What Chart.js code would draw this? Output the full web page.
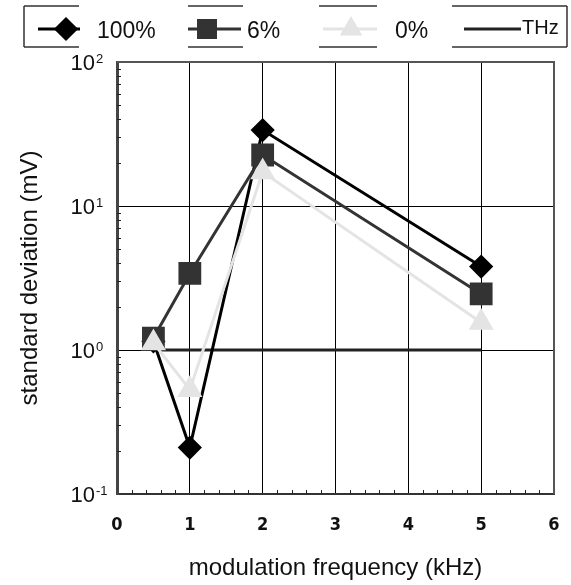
<!DOCTYPE html>
<html>
<head>
<meta charset="utf-8">
<script src="https://cdn.jsdelivr.net/npm/chart.js@4.4.1/dist/chart.umd.min.js"></script>
<style>
  html, body { margin: 0; padding: 0; background: #fff; }
  #wrap { width: 571px; height: 585px; }
</style>
</head>
<body>
<div id="wrap"><canvas id="graph-box" width="571" height="585"></canvas></div>
<script>
// modulation frequency (kHz) of each measurement
const freqKHz = [0.5, 1, 2, 5];
// standard deviation (mV) per modulation depth
const sd100 = [1.15, 0.21, 33.7, 3.8];
const sd6 = [1.21, 3.4, 22.6, 2.45];
const sd0 = [1.12, 0.53, 17.2, 1.55];
// THz reference level
const thzX = [0.5, 5];
const thzY = [1, 1];

const xTicks = [0, 1, 2, 3, 4, 5, 6];
const yExps = [-1, 0, 1, 2];
const seriesNames = ['100%', '6%', '0%', 'THz'];

const pts = (xs, ys) => xs.map((x, i) => ({ x: x, y: ys[i] }));

const boxLegend = {
  id: 'boxLegend',
  afterDraw(chart) {
    const ctx = chart.ctx;
    const h = Chart.helpers;
    ctx.save();
    // broken frame around the legend
    ctx.strokeStyle = '#333';
    ctx.lineWidth = 1.5;
    const top = 6, bot = 47;
    [[24, 79], [188, 243], [319, 377], [452, 567]].forEach(s => {
      ctx.beginPath();
      ctx.moveTo(s[0], top); ctx.lineTo(s[1], top);
      ctx.moveTo(s[0], bot); ctx.lineTo(s[1], bot);
      ctx.stroke();
    });
    ctx.beginPath();
    ctx.moveTo(24, top); ctx.lineTo(24, bot);
    ctx.moveTo(567, top); ctx.lineTo(567, bot);
    ctx.stroke();

    const items = [
      { x0: 38, x1: 80, mx: 66, tx: 97, r: 10 },
      { x0: 188, x1: 241, mx: 207, tx: 247, r: 12 },
      { x0: 323, x1: 377, mx: 351, tx: 395, r: 10 },
      { x0: 464, x1: 521, mx: null, tx: 522, r: 0 }
    ];
    const ly = 29;
    items.forEach((it, i) => {
      const ds = chart.data.datasets[i];
      ctx.strokeStyle = ds.borderColor;
      ctx.lineWidth = 3;
      ctx.beginPath();
      ctx.moveTo(it.x0, ly); ctx.lineTo(it.x1, ly);
      ctx.stroke();
      if (it.mx !== null) {
        ctx.fillStyle = ds.pointBackgroundColor;
        ctx.strokeStyle = ds.pointBorderColor;
        h.drawPoint(ctx, { pointStyle: ds.pointStyle, radius: it.r, rotation: 0, borderWidth: 1 }, it.mx, ly);
      }
      ctx.fillStyle = '#111';
      ctx.font = (i === 3 ? '20px' : '23px') + ' "Liberation Sans", Arial, sans-serif';
      ctx.textBaseline = 'middle';
      ctx.textAlign = 'left';
      ctx.fillText(seriesNames[i], it.tx, i === 3 ? ly - 1 : ly + 3);
    });
    ctx.restore();
  }
};

const frameAndTicks = {
  id: 'frameAndTicks',
  afterDatasetsDraw(chart) {
    const ctx = chart.ctx;
    const a = chart.chartArea;
    const xs = chart.scales.x, ys = chart.scales.y;
    ctx.save();
    ctx.strokeStyle = '#555';
    ctx.lineWidth = 2;
    ctx.beginPath();
    ctx.moveTo(a.left, a.top); ctx.lineTo(a.right, a.top); ctx.lineTo(a.right, a.bottom);
    ctx.stroke();
    ctx.strokeStyle = '#222';
    ctx.lineWidth = 1;
    ctx.beginPath();
    // log minor ticks on the left axis
    [0.1, 1, 10].forEach(d => {
      for (let k = 2; k <= 9; k++) {
        const y = Math.round(ys.getPixelForValue(k * d)) + 0.5;
        ctx.moveTo(a.left, y); ctx.lineTo(a.left + 4, y);
      }
    });
    // minor ticks on the bottom axis
    for (let i = 0; i < 6; i++) {
      for (let k = 1; k <= 4; k++) {
        const x = Math.round(xs.getPixelForValue(i + k * 0.2)) + 0.5;
        ctx.moveTo(x, a.bottom); ctx.lineTo(x, a.bottom - 4);
      }
    }
    ctx.stroke();
    ctx.restore();
  },
  afterDraw(chart) {
    const ctx = chart.ctx;
    const xs = chart.scales.x, ys = chart.scales.y;
    ctx.save();
    ctx.fillStyle = '#111';
    ctx.textBaseline = 'middle';
    yExps.forEach(e => {
      const y = ys.getPixelForValue(Math.pow(10, e)) + 2;
      ctx.font = '22px "Liberation Sans", Arial, sans-serif';
      ctx.textAlign = 'right';
      ctx.fillText('10', 95, y);
      ctx.font = '13px "Liberation Sans", Arial, sans-serif';
      ctx.textAlign = 'left';
      ctx.fillText(String(e), 96, y - 5);
    });
    ctx.font = 'bold 18px "Liberation Sans Narrow", "DejaVu Sans Condensed", sans-serif';
    ctx.textAlign = 'center';
    xTicks.forEach(v => {
      ctx.fillText(String(v), xs.getPixelForValue(v), chart.chartArea.bottom + 31);
    });
    ctx.restore();
  }
};

const ctx = document.getElementById('graph-box');
new Chart(ctx, {
  type: 'line',
  data: {
    datasets: [
      {
        label: seriesNames[0], data: pts(freqKHz, sd100), order: 3,
        borderColor: '#000', borderWidth: 3,
        pointStyle: 'rectRot', pointRadius: 10,
        pointBackgroundColor: '#000', pointBorderColor: '#000'
      },
      {
        label: seriesNames[1], data: pts(freqKHz, sd6), order: 2,
        borderColor: '#333', borderWidth: 3,
        pointStyle: 'rect', pointRadius: 14,
        pointBackgroundColor: '#333', pointBorderColor: '#333'
      },
      {
        label: seriesNames[2], data: pts(freqKHz, sd0), order: 1,
        borderColor: '#e4e4e4', borderWidth: 3,
        pointStyle: 'triangle', pointRadius: 11.5,
        pointBackgroundColor: '#e4e4e4', pointBorderColor: '#e4e4e4'
      },
      {
        label: seriesNames[3], data: pts(thzX, thzY), order: 4,
        borderColor: '#222', borderWidth: 3, pointRadius: 0
      }
    ]
  },
  options: {
    responsive: false,
    animation: false,
    layout: { padding: { left: 0, right: 10, top: 62, bottom: 0 } },
    plugins: { legend: { display: false }, tooltip: { enabled: false } },
    elements: { line: { tension: 0 } },
    scales: {
      x: {
        type: 'linear', min: 0, max: 6,
        afterBuildTicks: s => { s.ticks = xTicks.map(v => ({ value: v })); },
        afterFit: s => { s.height = 91; s.paddingLeft = 0; s.paddingRight = 0; },
        ticks: { display: false },
        grid: {
          drawTicks: false,
          color: c => (c.tick && c.tick.value > 0 && c.tick.value < 6) ? '#000' : 'rgba(0,0,0,0)',
          lineWidth: 1
        },
        border: { display: true, color: '#333', width: 2 },
        title: {
          display: true, text: 'modulation frequency (kHz)', color: '#111',
          font: { family: '"Liberation Sans", Arial, sans-serif', size: 24 },
          padding: { top: 0, bottom: 2 }
        }
      },
      y: {
        type: 'logarithmic', min: 0.1, max: 100,
        afterBuildTicks: s => { s.ticks = yExps.map(e => ({ value: Math.pow(10, e) })); },
        afterFit: s => { s.width = 117; },
        ticks: { display: false },
        grid: {
          drawTicks: false,
          color: c => (c.tick && (c.tick.value === 1 || c.tick.value === 10)) ? '#000' : 'rgba(0,0,0,0)',
          lineWidth: 1
        },
        border: { display: true, color: '#444', width: 3 },
        title: {
          display: true, text: 'standard deviation (mV)', color: '#111',
          font: { family: '"Liberation Sans", Arial, sans-serif', size: 24 },
          padding: { top: 16, bottom: 0 }
        }
      }
    }
  },
  plugins: [frameAndTicks, boxLegend]
});
</script>
</body>
</html>
